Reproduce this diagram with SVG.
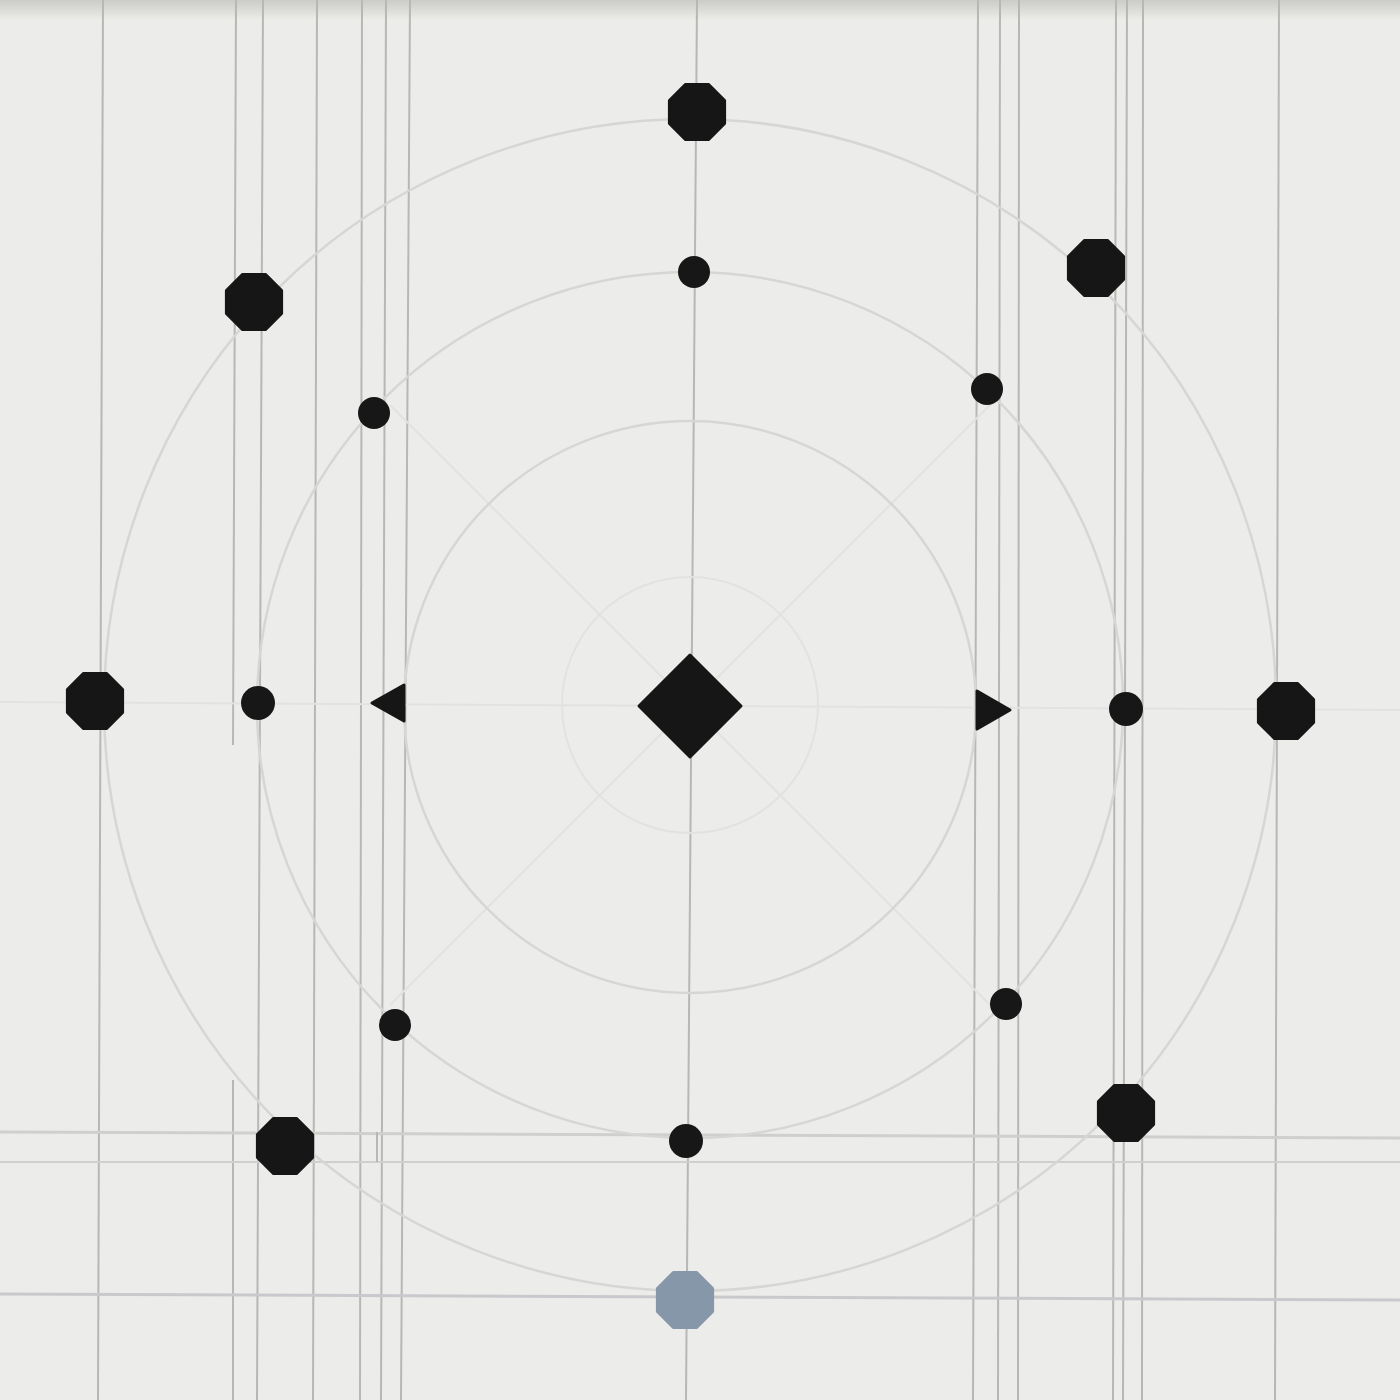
<svg xmlns="http://www.w3.org/2000/svg" width="1400" height="1400" viewBox="0 0 1400 1400">
<defs>
<style>
.v{stroke:#b7b7b5;stroke-width:2;fill:none}
.h{stroke:#cfcfcd;stroke-width:3;fill:none}
.c{stroke:#d6d6d4;stroke-width:2.5;fill:none}
.f{stroke:#e2e2e0;stroke-width:2;fill:none}
.big{fill:#161616;stroke:#161616;stroke-width:3;stroke-linejoin:round}
.dot{fill:#171717}
</style>
<polygon id="oct" points="11.4,-27.6 27.6,-11.4 27.6,11.4 11.4,27.6 -11.4,27.6 -27.6,11.4 -27.6,-11.4 -11.4,-27.6"/>
<linearGradient id="top" x1="0" y1="0" x2="0" y2="1">
<stop offset="0" stop-color="#cbcbc8"/>
<stop offset="1" stop-color="#ecece9"/>
</linearGradient>
</defs>
<rect width="1400" height="1400" fill="#ececea"/>
<rect width="1400" height="20" fill="url(#top)"/>
<g id="guides">
<line class="v" x1="103" y1="0" x2="98" y2="1400"/>
<line class="v" x1="236" y1="0" x2="233" y2="745"/>
<line class="v" x1="233" y1="1080" x2="233" y2="1400"/>
<line class="v" x1="263" y1="0" x2="257" y2="1400"/>
<line class="v" x1="317" y1="0" x2="313" y2="1400"/>
<line class="v" x1="362" y1="0" x2="360" y2="1400"/>
<line class="v" x1="386" y1="0" x2="381" y2="1400"/>
<line class="v" x1="410" y1="0" x2="401" y2="1400"/>
<line class="v" x1="697" y1="0" x2="686" y2="1400"/>
<line class="v" x1="978" y1="0" x2="973" y2="1400"/>
<line class="v" x1="1000" y1="0" x2="998" y2="1400"/>
<line class="v" x1="1019" y1="0" x2="1018" y2="1400"/>
<line class="v" x1="1116" y1="0" x2="1113" y2="1400"/>
<line class="v" x1="1127" y1="0" x2="1123" y2="1400"/>
<line class="v" x1="1143" y1="0" x2="1142" y2="1400"/>
<line class="v" x1="1279" y1="0" x2="1275" y2="1400"/>
<line class="h" x1="0" y1="1132" x2="1400" y2="1138"/>
<line class="h" x1="0" y1="1162" x2="1400" y2="1162" style="stroke-width:2"/>
<line class="v" x1="377" y1="1132" x2="377" y2="1162"/>
<line class="h" x1="0" y1="1294" x2="1400" y2="1300" style="stroke:#c8c9cc"/>
<line class="f" x1="0" y1="702" x2="1400" y2="710"/>
<line class="f" x1="390" y1="405" x2="990" y2="1005"/>
<line class="f" x1="990" y1="405" x2="390" y2="1005"/>
<circle class="c" cx="690" cy="705" r="586"/>
<circle class="c" cx="690" cy="705" r="433"/>
<circle class="c" cx="690" cy="707" r="286"/>
<circle class="f" cx="690" cy="705" r="128"/>
</g>
<g id="outer-nodes">
<use href="#oct" class="big" x="697" y="112"/>
<use href="#oct" class="big" x="1096" y="268"/>
<use href="#oct" class="big" x="254" y="302"/>
<use href="#oct" class="big" x="95" y="701"/>
<use href="#oct" class="big" x="1286" y="711"/>
<use href="#oct" class="big" x="285" y="1146"/>
<use href="#oct" class="big" x="1126" y="1113"/>
<use href="#oct" x="685" y="1300" fill="#8797aa" stroke="#8797aa" stroke-width="3" stroke-linejoin="round"/>
</g>
<g id="inner-nodes">
<circle class="dot" cx="694" cy="272" r="16"/>
<circle class="dot" cx="987" cy="389" r="16"/>
<circle class="dot" cx="374" cy="413" r="16"/>
<circle class="dot" cx="258" cy="703" r="17"/>
<circle class="dot" cx="1126" cy="709" r="17"/>
<circle class="dot" cx="395" cy="1025" r="16"/>
<circle class="dot" cx="1006" cy="1004" r="16"/>
<circle class="dot" cx="686" cy="1141" r="17"/>
</g>
<g id="center">
<polygon class="big" points="690,655 741,706 690,757 639,706"/>
<polygon class="big" points="372,703 404,685 404,721"/>
<polygon class="big" points="1010,710 977,691 977,729"/>
</g>
</svg>
